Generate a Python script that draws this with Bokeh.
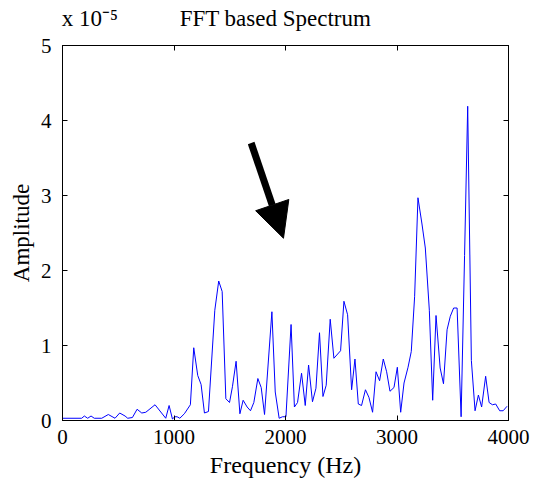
from bokeh.plotting import figure
from bokeh.models import (LinearAxis, FixedTicker, Range1d, Arrow, NormalHead,
                          CustomJSTickFormatter)
from bokeh.embed import file_html
from bokeh.resources import INLINE

# ---- data (amplitude in units of 1e-5) ----
freq_hz = [0, 172, 196, 226, 256, 285, 352, 411, 471, 513, 561, 585, 627, 669, 711, 747,
           830, 926, 956, 986, 1007, 1028, 1052, 1093, 1147, 1177, 1213, 1243, 1273, 1309,
           1366, 1401, 1432, 1465, 1498, 1524, 1557, 1591, 1620, 1656, 1686, 1716, 1752,
           1782, 1812, 1878, 1908, 1943, 1973, 2004, 2050, 2080, 2108, 2144, 2177, 2207,
           2242, 2273, 2305, 2336, 2365, 2401, 2434, 2494, 2524, 2557, 2593, 2623, 2653,
           2682, 2717, 2748, 2781, 2812, 2844, 2877, 2907, 2937, 2973, 3003, 3033, 3063,
           3099, 3128, 3158, 3188, 3224, 3254, 3290, 3320, 3350, 3387, 3417, 3449, 3478,
           3508, 3539, 3575, 3606, 3634, 3667, 3700, 3730, 3759, 3795, 3826, 3856, 3885,
           3921, 3952, 3987]
amplitude = [0.03, 0.03, 0.06, 0.03, 0.06, 0.03, 0.03, 0.08, 0.03, 0.10, 0.06, 0.03, 0.04,
             0.15, 0.10, 0.11, 0.21, 0.03, 0.20, 0.02, 0.05, 0.05, 0.03, 0.09, 0.21, 0.97,
             0.60, 0.48, 0.10, 0.12, 1.47, 1.86, 1.72, 0.29, 0.24, 0.45, 0.79, 0.09, 0.27,
             0.18, 0.13, 0.24, 0.56, 0.44, 0.08, 1.45, 0.38, 0.03, 0.05, 0.05, 1.28, 0.18,
             0.24, 0.63, 0.20, 0.74, 0.25, 0.43, 1.17, 0.32, 0.47, 1.35, 0.83, 0.93, 1.59,
             1.41, 0.41, 0.82, 0.22, 0.20, 0.41, 0.31, 0.11, 0.65, 0.53, 0.82, 0.65, 0.39,
             0.44, 0.71, 0.11, 0.50, 0.71, 0.92, 1.65, 2.97, 2.62, 2.30, 1.47, 0.27, 1.40,
             0.70, 0.49, 1.21, 1.39, 1.50, 1.50, 0.05, 2.20, 4.19, 0.80, 0.13, 0.34, 0.18,
             0.59, 0.24, 0.21, 0.22, 0.13, 0.13, 0.19]
x_ticks = [0, 1000, 2000, 3000, 4000]
y_ticks = [0, 1, 2, 3, 4, 5]
title_text = "FFT based Spectrum"
scale_text = "x 10\u207b\u2075"
top_text_pos = {245: scale_text, 1910: title_text}   # where the texts sit along the top
arrow_from = (1692, 3.70)
arrow_to = (1982, 2.43)

FONT = "Liberation Serif"

p = figure(width=535, height=480, output_backend="svg", toolbar_location=None,
           x_range=Range1d(0, 4000), y_range=Range1d(0, 5),
           x_axis_location=None, y_axis_location=None,
           min_border_left=62, min_border_right=27, min_border_top=45, min_border_bottom=58)
p.grid.visible = False
p.outline_line_color = "black"
p.outline_line_width = 1
p.background_fill_color = "white"
p.border_fill_color = "white"

def make_axis(ticks):
    ax = LinearAxis(ticker=FixedTicker(ticks=ticks))
    ax.major_tick_in = 5
    ax.major_tick_out = 0
    ax.minor_tick_line_color = None
    ax.axis_line_color = "black"
    ax.major_tick_line_color = "black"
    ax.major_label_text_font = FONT
    ax.major_label_text_font_size = "21px"
    ax.major_label_text_color = "black"
    ax.axis_label_text_font = FONT
    ax.axis_label_text_font_style = "normal"
    ax.axis_label_text_color = "black"
    return ax

bottom = make_axis(x_ticks)
bottom.axis_label = "Frequency (Hz)"
bottom.axis_label_text_font_size = "24px"
bottom.major_label_standoff = 9
bottom.axis_label_standoff = 5
left = make_axis(y_ticks)
left.axis_label = "Amplitude"
left.axis_label_text_font_size = "23px"
left.major_label_standoff = 11
left.axis_label_standoff = 4

# top axis: tick marks at x_ticks (as minor ticks), texts above the frame as labels
top = LinearAxis(ticker=FixedTicker(ticks=list(top_text_pos.keys()), minor_ticks=x_ticks))
top.major_tick_line_color = None
top.minor_tick_line_color = "black"
top.minor_tick_in = 5
top.minor_tick_out = 0
top.axis_line_color = "black"
top.major_label_overrides = top_text_pos
top.major_label_standoff = 9
top.major_label_text_font = FONT
top.major_label_text_font_size = "23px"
top.major_label_text_color = "black"

right = make_axis(y_ticks)
right.formatter = CustomJSTickFormatter(code="return ''")
right.major_label_standoff = 0

p.add_layout(bottom, "below")
p.add_layout(left, "left")
p.add_layout(top, "above")
p.add_layout(right, "right")

p.line(freq_hz, amplitude, line_color="#0000ff", line_width=1)

p.add_layout(Arrow(end=NormalHead(size=35, fill_color="black", line_color="black"),
                   x_start=arrow_from[0], y_start=arrow_from[1],
                   x_end=arrow_to[0], y_end=arrow_to[1],
                   line_color="black", line_width=7))

open("out.html", "w").write(file_html(p, INLINE))
